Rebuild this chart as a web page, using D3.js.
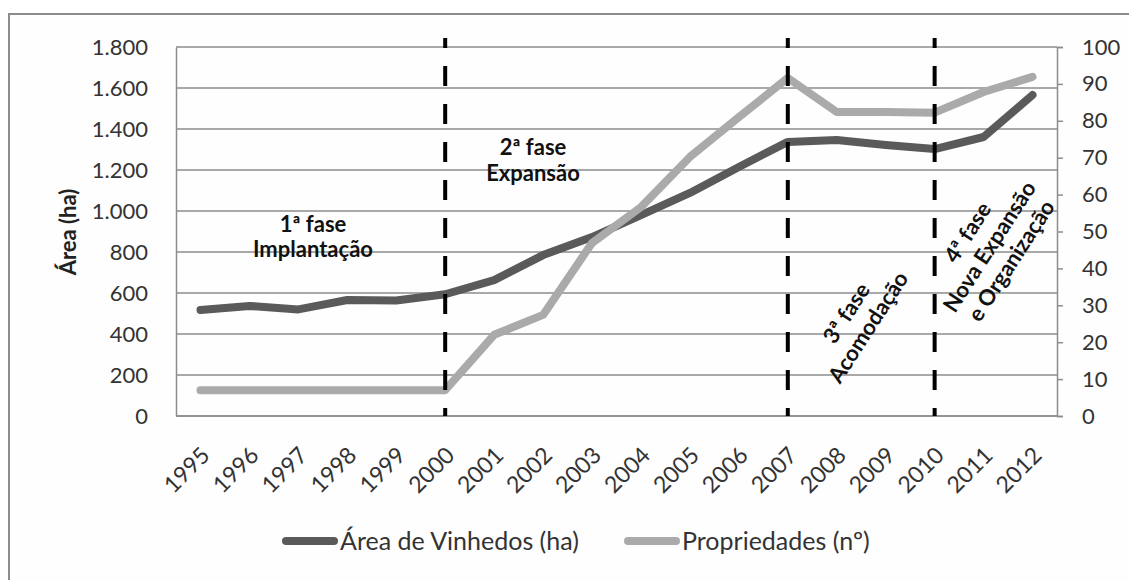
<!DOCTYPE html>
<html>
<head>
<meta charset="utf-8">
<script src="https://cdn.jsdelivr.net/npm/d3@7"></script>
<style>
    body { margin: 0; background: #ffffff; }
    #vinhedos-chart { width: 1129px; height: 580px; }
    text { font-family: Lato, "Open Sans", sans-serif; }
</style>
</head>
<body>
<div id="vinhedos-chart"></div>
<script>

// data
var years = ["1995", "1996", "1997", "1998", "1999", "2000", "2001", "2002", "2003",
             "2004", "2005", "2006", "2007", "2008", "2009", "2010", "2011", "2012"];
var areaVinhedos = [517, 537, 520, 566, 563, 594, 663, 785, 873,
                    980, 1088, 1215, 1337, 1346, 1322, 1302, 1361, 1566];
var propriedades = [7, 7, 7, 7, 7, 7, 22, 27.4, 46.9,
                    56.6, 70.2, 81, 91.6, 82.4, 82.4, 82.2, 87.8, 91.9];
var areaTicks = [0, 200, 400, 600, 800, 1000, 1200, 1400, 1600, 1800];
var propTicks = [0, 10, 20, 30, 40, 50, 60, 70, 80, 90, 100];
var phaseBreaks = ["2000", "2007", "2010"];


function LineChart() {
    var self = this;
    self.init();
};

/**
 * Sets up the svg, scales, frame and axes
 */
LineChart.prototype.init = function(){
    var self = this;

    self.plot = {left: 176, right: 1057, top: 47, bottom: 416};

    var div = d3.select("#vinhedos-chart");
    self.svg = div.append("svg")
        .attr("width", 1129)
        .attr("height", 580);

    //outer frame of the chart
    self.svg.append("rect")
        .attr("x", 9)
        .attr("y", 14)
        .attr("width", 1140)
        .attr("height", 620)
        .attr("fill", "#fefefe")
        .attr("stroke", "#8c8c8c")
        .attr("stroke-width", 2);

    self.x = d3.scaleBand()
        .domain(years)
        .range([self.plot.left, self.plot.right]);

    self.yArea = d3.scaleLinear()
        .domain([0, 1800])
        .range([self.plot.bottom, self.plot.top]);

    self.yProp = d3.scaleLinear()
        .domain([0, 100])
        .range([self.plot.bottom, self.plot.top]);

    var ptBR = d3.formatLocale({decimal: ",", thousands: ".", grouping: [3], currency: ["R$", ""]});

    //horizontal grid
    self.svg.append("g")
        .selectAll("line")
        .data(areaTicks)
        .enter().append("line")
        .attr("x1", self.plot.left)
        .attr("x2", self.plot.right)
        .attr("y1", function(d){ return self.yArea(d); })
        .attr("y2", function(d){ return self.yArea(d); })
        .attr("stroke", "#8c8c8c")
        .attr("stroke-width", 1.5);

    //left axis
    var leftAxis = self.svg.append("g")
        .attr("transform", "translate(" + self.plot.left + ",0)")
        .call(d3.axisLeft(self.yArea).tickValues(areaTicks).tickSize(0).tickPadding(28).tickFormat(ptBR.format(",")));
    leftAxis.select(".domain").attr("stroke", "#8c8c8c").attr("stroke-width", 1.5);
    leftAxis.selectAll("text")
        .attr("font-size", "22px")
        .attr("fill", "#333")
        .style("font-family", "Lato, sans-serif");

    //right axis
    var rightAxis = self.svg.append("g")
        .attr("transform", "translate(" + self.plot.right + ",0)")
        .call(d3.axisRight(self.yProp).tickValues(propTicks).tickSize(6).tickPadding(19));
    rightAxis.select(".domain").attr("stroke", "#8c8c8c").attr("stroke-width", 1.5);
    rightAxis.selectAll("line").attr("stroke", "#8c8c8c").attr("stroke-width", 1.5);
    rightAxis.selectAll("text")
        .attr("font-size", "22px")
        .attr("fill", "#333")
        .style("font-family", "Lato, sans-serif");

    //bottom axis line
    self.svg.append("line")
        .attr("x1", self.plot.left)
        .attr("x2", self.plot.right)
        .attr("y1", self.plot.bottom)
        .attr("y2", self.plot.bottom)
        .attr("stroke", "#8c8c8c")
        .attr("stroke-width", 1.5);

    //rotated year labels
    self.svg.append("g")
        .selectAll("text")
        .data(years)
        .enter().append("text")
        .attr("transform", function(d){
            var cx = self.x(d) + self.x.bandwidth() / 2;
            return "translate(" + (cx + 5) + "," + 451 + ") rotate(-45)";
        })
        .attr("text-anchor", "end")
        .attr("dy", "0.35em")
        .attr("font-size", "23px")
        .attr("fill", "#333")
        .text(function(d){ return d; });

    //axis title
    self.svg.append("text")
        .attr("transform", "translate(76,232) rotate(-90)")
        .attr("text-anchor", "middle")
        .attr("font-size", "22px")
        .attr("font-weight", "bold")
        .attr("fill", "#222")
        .text("Área (ha)");
};

/**
 * Draws both series, the phase markers and the legend
 */
LineChart.prototype.update = function(){
    var self = this;
    var cx = function(d){ return self.x(d) + self.x.bandwidth() / 2; };

    var areaLine = d3.line()
        .x(function(d, i){ return cx(years[i]); })
        .y(function(d){ return self.yArea(d); });

    var propLine = d3.line()
        .x(function(d, i){ return cx(years[i]); })
        .y(function(d){ return self.yProp(d); });

    self.svg.append("path")
        .datum(areaVinhedos)
        .attr("d", areaLine)
        .attr("fill", "none")
        .attr("stroke", "#5a5a5a")
        .attr("stroke-width", 8)
        .attr("stroke-linecap", "round")
        .attr("stroke-linejoin", "round");

    self.svg.append("path")
        .datum(propriedades)
        .attr("d", propLine)
        .attr("fill", "none")
        .attr("stroke", "#aaaaaa")
        .attr("stroke-width", 8)
        .attr("stroke-linecap", "round")
        .attr("stroke-linejoin", "round");

    //dashed phase lines
    self.svg.append("g")
        .selectAll("line")
        .data(phaseBreaks)
        .enter().append("line")
        .attr("x1", cx)
        .attr("x2", cx)
        .attr("y1", 38)
        .attr("y2", self.plot.bottom)
        .attr("stroke", "#000")
        .attr("stroke-width", 4)
        .attr("stroke-dasharray", "20,18")
        .attr("stroke-dashoffset", 10);

    //phase labels
    var phase1 = self.svg.append("text")
        .attr("text-anchor", "middle")
        .attr("font-size", "22px")
        .attr("font-weight", "bold")
        .attr("fill", "#111");
    phase1.append("tspan").attr("x", 313).attr("y", 232).text("1ª fase");
    phase1.append("tspan").attr("x", 313).attr("y", 257).text("Implantação");

    var phase2 = self.svg.append("text")
        .attr("text-anchor", "middle")
        .attr("font-size", "22px")
        .attr("font-weight", "bold")
        .attr("fill", "#111");
    phase2.append("tspan").attr("x", 533).attr("y", 155).text("2ª fase");
    phase2.append("tspan").attr("x", 533).attr("y", 181).text("Expansão");

    var phase3 = self.svg.append("text")
        .attr("transform", "translate(857,320) rotate(-57)")
        .attr("text-anchor", "middle")
        .attr("font-size", "22px")
        .attr("font-weight", "bold")
        .attr("fill", "#111");
    phase3.append("tspan").attr("x", 0).attr("y", -5).text("3ª fase");
    phase3.append("tspan").attr("x", 0).attr("y", 21).text("Acomodação");

    var phase4 = self.svg.append("text")
        .attr("transform", "translate(990,247) rotate(-57)")
        .attr("text-anchor", "middle")
        .attr("font-size", "22px")
        .attr("font-weight", "bold")
        .attr("fill", "#111");
    phase4.append("tspan").attr("x", 0).attr("y", -19).text("4ª fase");
    phase4.append("tspan").attr("x", 0).attr("y", 7).text("Nova Expansão");
    phase4.append("tspan").attr("x", 0).attr("y", 33).text("e Organização");

    //legend
    var legend = [
        {name: "Área de Vinhedos (ha)", color: "#5a5a5a", x: 282},
        {name: "Propriedades (nº)", color: "#aaaaaa", x: 624}
    ];
    var items = self.svg.append("g")
        .selectAll("g")
        .data(legend)
        .enter().append("g")
        .attr("transform", function(d){ return "translate(" + d.x + ",541)"; });

    items.append("line")
        .attr("x1", 4)
        .attr("x2", 52)
        .attr("stroke", function(d){ return d.color; })
        .attr("stroke-width", 8)
        .attr("stroke-linecap", "round");

    items.append("text")
        .attr("x", 58)
        .attr("dy", "0.35em")
        .attr("font-size", "25px")
        .attr("fill", "#333")
        .text(function(d){ return d.name; });
};

var chart = new LineChart();
chart.update();

</script>
</body>
</html>
